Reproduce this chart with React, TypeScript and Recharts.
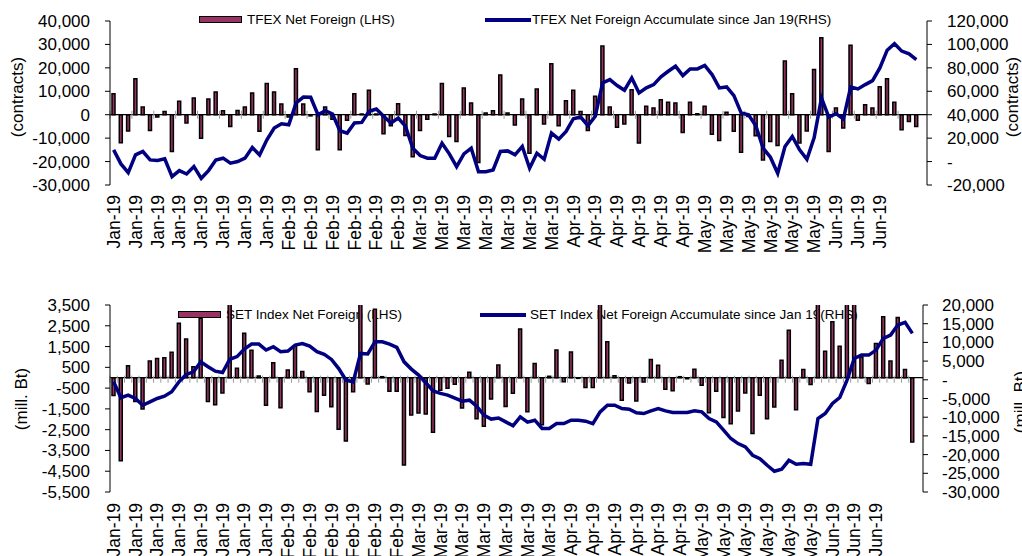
import React from 'react';
import { ComposedChart, Bar, Line, XAxis, YAxis, ReferenceLine } from 'recharts';

const FONT = '"Liberation Sans", Arial, sans-serif';
const BAR_FILL = '#993366';
const LINE_COLOR = '#000080';

// one label every third trading day
const tickLabels = [
  'Jan-19', 'Jan-19', 'Jan-19', 'Jan-19', 'Jan-19', 'Jan-19', 'Jan-19', 'Jan-19',
  'Feb-19', 'Feb-19', 'Feb-19', 'Feb-19', 'Feb-19', 'Feb-19',
  'Mar-19', 'Mar-19', 'Mar-19', 'Mar-19', 'Mar-19', 'Mar-19', 'Mar-19',
  'Apr-19', 'Apr-19', 'Apr-19', 'Apr-19', 'Apr-19', 'Apr-19',
  'May-19', 'May-19', 'May-19', 'May-19', 'May-19', 'May-19',
  'Jun-19', 'Jun-19', 'Jun-19',
];

const tfexNet = [
  9000, -12000, -7000, 15300, 3300, -6700, -1000, 1400, -15700, 5700,
  -3500, 7100, -10000, 6700, 9700, 1700, -5000, 1800, 3300, 9300,
  -7100, 13300, 9700, 4600, -1000, 19600, 4600, -500, -15000, 3300,
  -1900, -15000, -2400, 8900, 300, 10400, 300, -8100, -4700, 4700,
  -8900, -17900, -6700, -1900, 300, 13300, -9300, -11400, 11400, 5000,
  -20400, 700, 1700, 16900, 700, -4400, 6700, -16400, 11000, -4000,
  21700, -4700, 6000, 10400, 1400, -6700, 7900, 29300, 3300, -5400,
  -4000, 10700, -12100, 3600, 2900, 6400, 5300, 5000, -7600, 5300,
  400, 3600, -8300, -11000, 1000, -7100, -16000, -800, -9000, -19300,
  -11400, -13100, 22900, 8900, -12100, -6900, 19300, 32900, -15700, 2900,
  -5700, 29600, -2400, 4300, 2900, 11900, 15400, 5300, -6400, -2900,
  -5000,
];

const tfexAcc = [
  10000, -2000, -9400, 5700, 8600, 1400, 900, 2300, -12900, -7700,
  -10600, -4300, -14300, -7700, 1400, 2900, -1400, 0, 2900, 12000,
  5700, 18600, 28600, 32300, 31400, 50000, 55100, 54900, 40000, 43400,
  40600, 26300, 24300, 32900, 33400, 42900, 44900, 38600, 32900, 37100,
  30000, 11400, 5100, 2900, 2900, 15700, 6600, -4300, 6600, 11400,
  -8600, -8600, -7100, 8600, 9100, 5700, 12900, -5700, 7100, 2000,
  24300, 19100, 25700, 36600, 38000, 30600, 38600, 67100, 70000, 64900,
  60900, 71400, 58600, 62900, 65700, 72300, 77100, 81400, 73400, 79100,
  79100, 82000, 74300, 62900, 63700, 56300, 41400, 40000, 30600, 11400,
  3700, -10000, 12900, 21400, 10000, 2000, 20600, 54300, 38000, 40900,
  36300, 63700, 62000, 65700, 69100, 80000, 95100, 100600, 94300, 92000,
  87100,
];

const setNet = [
  -850, -4000, 580, -1150, -1500, 800, 930, 960, 1220, 2620,
  1860, 530, 2860, -1150, -1300, -730, 3600, 450, 2140, 1320,
  80, -1320, 720, -1450, 370, 1510, 300, -680, -1620, -840,
  -1400, -2480, -3050, -680, 7600, -300, 3300, 50, -650, -650,
  -4200, -1800, -1700, -1750, -2630, -600, -510, -320, -1460, 260,
  -1980, -2340, -1030, 610, -1390, -750, 2350, -1640, 690, -2260,
  70, 1330, -190, 1240, -30, -470, -470, 3600, 1730, 100,
  -1090, -250, -1120, -200, 880, 600, -550, -630, 50, -50,
  410, -360, -1680, -650, -1920, -2220, -1600, -730, -2690, -840,
  -1970, -1410, 840, 2290, -1540, 390, -330, 12000, 1280, 2690,
  1520, 4600, 5800, 1000, -280, 1650, 2930, 800, 2900, 390,
  -3090,
];

const setAcc = [
  -540, -4800, -4100, -5000, -6800, -5900, -5000, -4400, -3200, -540,
  1430, 2140, 4800, 3500, 2300, 1960, 5500, 6200, 8200, 9550,
  9550, 7950, 8840, 7500, 7700, 9300, 9700, 9000, 7500, 6800,
  5450, 3000, -90, -540, 7050, 6900, 10180, 10180, 9550, 8660,
  4800, 2860, 1250, -800, -3000, -3640, -4100, -4900, -5700, -5440,
  -7050, -9460, -10500, -10200, -11250, -12300, -9900, -11330, -10800, -13000,
  -13000, -11680, -11680, -10800, -10800, -11070, -11700, -8570, -6790, -6790,
  -7680, -7860, -8840, -9020, -8300, -7680, -8300, -8750, -8750, -8750,
  -8300, -8570, -10360, -11250, -13480, -15710, -17050, -17950, -20180, -21070,
  -22860, -24460, -23930, -21520, -22590, -22410, -22590, -10360, -9020, -6340,
  -4730, -90, 5710, 6610, 6610, 7950, 11070, 11960, 14640, 15360,
  12410,
];

const tfexLeftTicks = [-30000, -20000, -10000, 0, 10000, 20000, 30000, 40000];
const tfexRightTicks = [-20000, 0, 20000, 40000, 60000, 80000, 100000, 120000];
const setLeftTicks = [-5500, -4500, -3500, -2500, -1500, -500, 500, 1500, 2500, 3500];
const setRightTicks = [-30000, -25000, -20000, -15000, -10000, -5000, 0, 5000, 10000, 15000, 20000];

const tfexRows = tfexNet.map((v, i) => ({ i, net: v, acc: tfexAcc[i] }));
const setRows = setNet.map((v, i) => ({ i, net: v, acc: setAcc[i] }));

// small grey marks on the zero (category) axis
const tfexZeroMarks = tfexRows.filter((r) => r.i % 3 === 0).map((r) => r.i);
const setZeroMarks = setRows.map((r) => r.i);

const fmt = (v: number) => v.toLocaleString('en-US');
const fmtDash = (v: number) => (v === 0 ? '-' : v.toLocaleString('en-US'));

const MonthTick = (props: any) => {
  const { x, y, payload } = props;
  const i = Number(payload.value);
  const label = i % 3 === 0 ? tickLabels[i / 3] : undefined;
  if (!label) return <g />;
  return (
    <text
      x={x}
      y={y}
      transform={`rotate(-90, ${x}, ${y})`}
      textAnchor="end"
      dy="0.35em"
      fontSize={17.5}
      fontFamily={FONT}
      fill="#000"
    >
      {label}
    </text>
  );
};

const axisTick = { fontSize: 17, fill: '#000', fontFamily: FONT };

const abs = (s: React.CSSProperties): React.CSSProperties => ({ position: 'absolute', ...s });

const legendText: React.CSSProperties = {
  fontFamily: FONT,
  fontSize: 13.5,
  color: '#000',
  whiteSpace: 'nowrap',
  lineHeight: '16px',
};

function Title({ x, y, text }: { x: number; y: number; text: string }) {
  return (
    <div
      style={abs({
        left: x,
        top: y,
        transform: 'translate(-50%, -50%) rotate(-90deg)',
        fontFamily: FONT,
        fontSize: 17,
        whiteSpace: 'nowrap',
        color: '#000',
      })}
    >
      {text}
    </div>
  );
}

function Legend2({ top, boxLeft, textLeft, lineLeft, lineTextLeft, barLabel, lineLabel }: {
  top: number; boxLeft: number; textLeft: number; lineLeft: number; lineTextLeft: number;
  barLabel: string; lineLabel: string;
}) {
  return (
    <>
      <div style={abs({ left: boxLeft, top: top - 4, width: 41, height: 5, background: BAR_FILL, border: '1.5px solid #000' })} />
      <div style={abs({ ...legendText, left: textLeft, top: top - 8 })}>{barLabel}</div>
      <div style={abs({ left: lineLeft, top: top - 2, width: 46, height: 4, background: LINE_COLOR })} />
      <div style={abs({ ...legendText, left: lineTextLeft, top: top - 8 })}>{lineLabel}</div>
    </>
  );
}

export default function App() {
  return (
    <div style={abs({ left: 0, top: 0, width: 1022, height: 556, overflow: 'hidden', background: '#fff' })}>
      <Legend2
        top={19.5}
        boxLeft={199}
        textLeft={247}
        lineLeft={485}
        lineTextLeft={532}
        barLabel="TFEX Net Foreign (LHS)"
        lineLabel="TFEX Net Foreign Accumulate since Jan 19(RHS)"
      />
      <Legend2
        top={314.5}
        boxLeft={178}
        textLeft={226}
        lineLeft={480}
        lineTextLeft={530}
        barLabel="SET Index Net Foreign (LHS)"
        lineLabel="SET Index Net Foreign Accumulate since Jan 19(RHS)"
      />

      <div style={abs({ left: 0, top: 0 })}>
        <ComposedChart width={1022} height={275} data={tfexRows} margin={{ top: 21, right: 0, bottom: 0, left: 0 }}>
          <XAxis
            dataKey="i"
            type="category"
            interval={0}
            height={90}
            tickSize={0}
            tickMargin={10}
            axisLine={false}
            tickLine={false}
            padding={{ left: 0, right: 7 }}
            tick={<MonthTick />}
          />
          <YAxis
            yAxisId="l"
            orientation="left"
            width={110}
            domain={[-30000, 40000]}
            ticks={tfexLeftTicks}
            interval={0}
            allowDataOverflow
            tickSize={5}
            tickMargin={15}
            tick={axisTick}
            tickFormatter={fmt}
            axisLine={{ stroke: '#000' }}
            tickLine={{ stroke: '#000' }}
          />
          <YAxis
            yAxisId="r"
            orientation="right"
            width={95}
            domain={[-20000, 120000]}
            ticks={tfexRightTicks}
            interval={0}
            tickSize={5}
            tickMargin={15}
            tick={axisTick}
            tickFormatter={fmtDash}
            axisLine={{ stroke: '#000' }}
            tickLine={{ stroke: '#000' }}
          />
          <ReferenceLine yAxisId="l" y={0} stroke="#000" strokeWidth={1.2} />
          {tfexZeroMarks.map((i) => (
            <ReferenceLine
              key={i}
              yAxisId="l"
              position="start"
              segment={[{ x: i, y: 1700 }, { x: i, y: -1700 }]}
              stroke="#9a9a9a"
              strokeWidth={1}
            />
          ))}
          <Bar yAxisId="l" dataKey="net" barSize={3} fill={BAR_FILL} stroke="#000" strokeWidth={1.5} isAnimationActive={false} />
          <Line yAxisId="r" dataKey="acc" type="linear" stroke={LINE_COLOR} strokeWidth={3.5} dot={false} isAnimationActive={false} />
        </ComposedChart>
      </div>

      <div style={abs({ left: 0, top: 280 })}>
        <ComposedChart width={1022} height={276} data={setRows} margin={{ top: 25, right: 0, bottom: 0, left: 0 }}>
          <XAxis
            dataKey="i"
            type="category"
            interval={0}
            height={64}
            tickSize={0}
            tickMargin={11}
            axisLine={false}
            tickLine={false}
            padding={{ left: 0, right: 7 }}
            tick={<MonthTick />}
          />
          <YAxis
            yAxisId="l"
            orientation="left"
            width={110}
            domain={[-5500, 3500]}
            ticks={setLeftTicks}
            interval={0}
            allowDataOverflow
            tickSize={5}
            tickMargin={15}
            tick={axisTick}
            tickFormatter={fmt}
            axisLine={{ stroke: '#000' }}
            tickLine={{ stroke: '#000' }}
          />
          <YAxis
            yAxisId="r"
            orientation="right"
            width={99}
            domain={[-30000, 20000]}
            ticks={setRightTicks}
            interval={0}
            tickSize={5}
            tickMargin={14}
            tick={axisTick}
            tickFormatter={fmtDash}
            axisLine={{ stroke: '#000' }}
            tickLine={{ stroke: '#000' }}
          />
          <ReferenceLine yAxisId="l" y={0} stroke="#000" strokeWidth={1.2} />
          {setZeroMarks.map((i) => (
            <ReferenceLine
              key={i}
              yAxisId="l"
              position="start"
              segment={[{ x: i, y: 100 }, { x: i, y: -240 }]}
              stroke="#9a9a9a"
              strokeWidth={1}
            />
          ))}
          <Bar yAxisId="l" dataKey="net" barSize={3} fill={BAR_FILL} stroke="#000" strokeWidth={1.5} isAnimationActive={false} />
          <Line yAxisId="r" dataKey="acc" type="linear" stroke={LINE_COLOR} strokeWidth={3.5} dot={false} isAnimationActive={false} />
        </ComposedChart>
      </div>

      <Title x={18} y={97} text="(contracts)" />
      <Title x={1013} y={97} text="(contracts)" />
      <Title x={22} y={399} text="(mill. Bt)" />
      <Title x={1021} y={402} text="(mill. Bt)" />
    </div>
  );
}
